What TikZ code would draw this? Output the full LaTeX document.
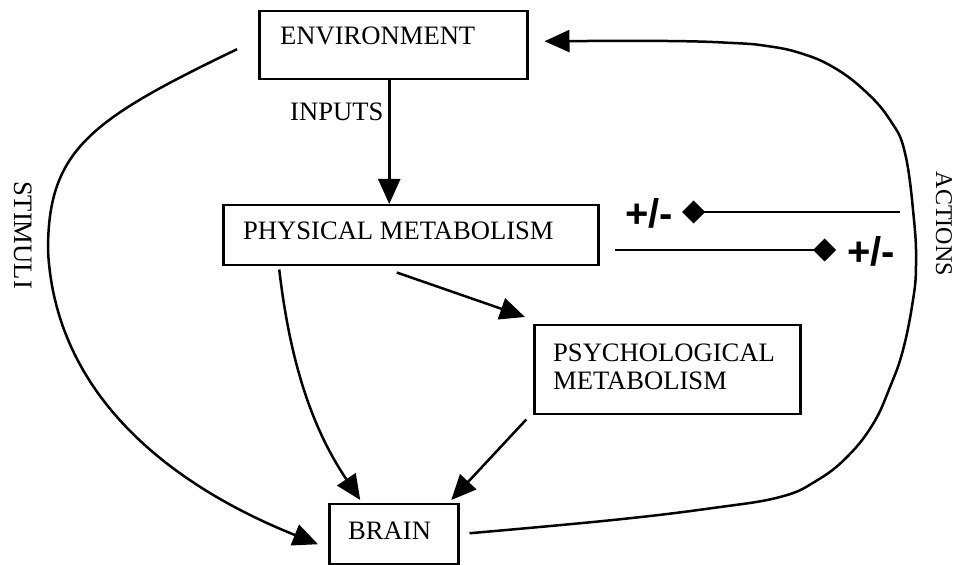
\documentclass[tikz,border=0pt]{standalone}
\usepackage{fontspec}
\setmainfont{Liberation Serif}
\newfontfamily\signfont{Liberation Sans}
\usetikzlibrary{arrows.meta}
\begin{document}
\begin{tikzpicture}[x=1pt,y=1pt,
  box/.style={draw, line width=2.5pt, inner sep=0pt, anchor=north west},
  lbl/.style={inner sep=0pt, anchor=base west, font=\fontsize{26.6}{28}\selectfont},
  sidelbl/.style={inner sep=0pt, rotate=-90},
  conn/.style={line width=2.5pt, -{Triangle[length=25pt,width=22pt]}},
  sign/.style={inner sep=0pt, font=\signfont\bfseries\fontsize{40}{42}\selectfont},
  dline/.style={line width=2.5pt, -{Diamond[length=23pt,width=23pt]}}]
\useasboundingbox (0,0) rectangle (956,565);
% boxes
\node[box, minimum width=268pt, minimum height=68pt] (env) at (258,555) {};
\node[box, minimum width=375pt, minimum height=60pt] (phys) at (222,361) {};
\node[box, minimum width=266pt, minimum height=89pt] (psych) at (533,241) {};
\node[box, minimum width=129pt, minimum height=60pt] (brain) at (328,62) {};
% texts
\node[lbl] (envt) at (280,520) {ENVIRONMENT};
\node[lbl] (inputs) at (290,444) {INPUTS};
\node[lbl] (physt) at (243,325) {PHYSICAL METABOLISM};
\node[lbl] (psycht1) at (553,203) {PSYCHOLOGICAL};
\node[lbl] (psycht2) at (553,175) {METABOLISM};
\node[lbl] (braint) at (348,25) {BRAIN};
\node[sidelbl, font=\fontsize{26.6}{28}\selectfont] (stim) at (23,330) {STIMULI};
\node[sidelbl, font=\fontsize{24}{26}\selectfont] (act) at (944,341) {ACTIONS};
% connectors
\draw[conn] ([xshift=-4pt]env.south) -- ([xshift=-4pt]env.south |- phys.north);
\draw[conn] ([shift={(-14pt,-6pt)}]phys.south) -- ([shift={(-8pt,7pt)}]psych.north west);
\draw[conn] ([shift={(-131.5pt,-3pt)}]phys.south) .. controls (292,185) and (320,125) .. ([shift={(-33.5pt,3pt)}]brain.north);
\draw[conn] ([shift={(-141pt,-4pt)}]psych.south) -- ([shift={(57.5pt,3pt)}]brain.north);
\draw[conn] ([shift={(-21pt,-4pt)}]env.west) .. controls (90,445) and (48,415) .. (48,315)
  .. controls (55,170) and (170,80) .. ([shift={(-10pt,-10pt)}]brain.west);
\coordinate (a0) at ([shift={(10pt,1pt)}]brain.east);
\coordinate (a1) at ([shift={(16pt,4pt)}]env.east);
\draw[conn] plot[smooth, tension=0.7] coordinates {(a0) (613,45) (713,57) (780,68) (816,84) (847,108) (873,141) (890,178) (903,215) (913,265) (916,300) (914,345) (905,412) (890,445) (865,474) (833,498) (800,512) (767,519) (733,522) (667,524) (a1)};
% +/- signs
\node[sign] (pm1) at (649,352) {+/-};
\node[sign] (pm2) at (871,314) {+/-};
\coordinate (t0) at (900,353);
\coordinate (t1) at (682,353);
\draw[dline] (t0) -- (t1);
\coordinate (b0) at (615,315);
\coordinate (b1) at (836,315);
\draw[dline] (b0) -- (b1);
\end{tikzpicture}
\end{document}
